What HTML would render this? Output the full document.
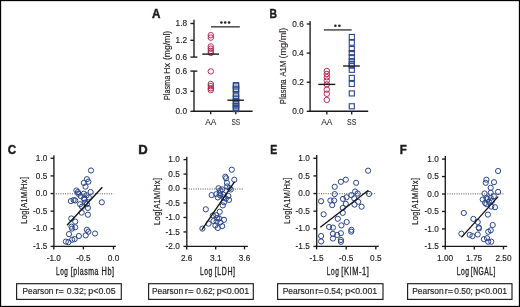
<!DOCTYPE html>
<html><head><meta charset="utf-8"><title>Figure</title>
<style>
html,body{margin:0;padding:0;background:#fff;}
body{width:520px;height:307px;overflow:hidden;}
svg{display:block;font-family:"Liberation Sans", sans-serif;filter:blur(0.3px);}
</style></head>
<body>
<svg xmlns="http://www.w3.org/2000/svg" width="520" height="307" viewBox="0 0 520 307">
<rect x="0" y="0" width="520" height="307" fill="#fff"/>
<rect x="0.5" y="0.5" width="519" height="306" fill="none" stroke="#000" stroke-width="1.3"/>
<text transform="translate(152.01,17.60) scale(0.9240,1)" font-size="12.6" font-weight="bold" fill="#1e1b1c" stroke="#1e1b1c" stroke-width="0.45">A</text>
<text transform="translate(269.60,17.60) scale(0.8197,1)" font-size="12.6" font-weight="bold" fill="#1e1b1c" stroke="#1e1b1c" stroke-width="0.45">B</text>
<text transform="translate(7.64,153.60) scale(0.9209,1)" font-size="12.6" font-weight="bold" fill="#1e1b1c" stroke="#1e1b1c" stroke-width="0.45">C</text>
<text transform="translate(138.32,153.50) scale(1.0366,1)" font-size="12.6" font-weight="bold" fill="#1e1b1c" stroke="#1e1b1c" stroke-width="0.45">D</text>
<text transform="translate(270.30,153.60) scale(0.8220,1)" font-size="12.6" font-weight="bold" fill="#1e1b1c" stroke="#1e1b1c" stroke-width="0.45">E</text>
<text transform="translate(399.83,153.60) scale(0.9070,1)" font-size="12.6" font-weight="bold" fill="#1e1b1c" stroke="#1e1b1c" stroke-width="0.45">F</text>
<line x1="194.0" y1="19.8" x2="194.0" y2="57.1" stroke="#1a1a1a" stroke-width="1.35" />
<line x1="190.4" y1="23.5" x2="194.0" y2="23.5" stroke="#1a1a1a" stroke-width="1.35" />
<text transform="translate(175.55,26.14) scale(0.88,1)" font-size="9.4" fill="#1e1b1c" stroke="#1e1b1c" stroke-width="0.15">1.8</text>
<line x1="190.4" y1="40.3" x2="194.0" y2="40.3" stroke="#1a1a1a" stroke-width="1.35" />
<text transform="translate(175.62,42.94) scale(0.88,1)" font-size="9.4" fill="#1e1b1c" stroke="#1e1b1c" stroke-width="0.15">1.2</text>
<line x1="190.4" y1="57.1" x2="197.4" y2="57.1" stroke="#1a1a1a" stroke-width="1.35" />
<text transform="translate(175.55,59.64) scale(0.88,1)" font-size="9.4" fill="#1e1b1c" stroke="#1e1b1c" stroke-width="0.15">0.6</text>
<line x1="194.0" y1="71.1" x2="194.0" y2="111.3" stroke="#1a1a1a" stroke-width="1.35" />
<line x1="190.4" y1="71.1" x2="197.4" y2="71.1" stroke="#1a1a1a" stroke-width="1.35" />
<text transform="translate(175.55,73.64) scale(0.88,1)" font-size="9.4" fill="#1e1b1c" stroke="#1e1b1c" stroke-width="0.15">0.6</text>
<line x1="190.4" y1="91.3" x2="194.0" y2="91.3" stroke="#1a1a1a" stroke-width="1.35" />
<text transform="translate(175.55,93.94) scale(0.88,1)" font-size="9.4" fill="#1e1b1c" stroke="#1e1b1c" stroke-width="0.15">0.3</text>
<line x1="190.4" y1="111.3" x2="194.0" y2="111.3" stroke="#1a1a1a" stroke-width="1.35" />
<text transform="translate(175.51,113.94) scale(0.88,1)" font-size="9.4" fill="#1e1b1c" stroke="#1e1b1c" stroke-width="0.15">0.0</text>
<line x1="193.4" y1="111.2" x2="252.6" y2="111.2" stroke="#1a1a1a" stroke-width="1.35" />
<line x1="210.7" y1="111.2" x2="210.7" y2="114.3" stroke="#1a1a1a" stroke-width="1.35" />
<line x1="235.8" y1="111.2" x2="235.8" y2="114.3" stroke="#1a1a1a" stroke-width="1.35" />
<text transform="translate(205.18,125.30) scale(0.9273,1)" font-size="9.0" font-weight="normal" fill="#1e1b1c" stroke="#1e1b1c" stroke-width="0.05">AA</text>
<text transform="translate(231.40,125.30) scale(0.7333,1)" font-size="9.0" font-weight="normal" fill="#1e1b1c" stroke="#1e1b1c" stroke-width="0.05">SS</text>
<text transform="translate(169.80,100.10) rotate(-90) scale(0.7628,1)" font-size="9.6" fill="#1e1b1c" stroke="#1e1b1c" stroke-width="0.15">Plasma</text>
<text transform="translate(169.80,73.95) rotate(-90) scale(0.9424,1)" font-size="9.6" fill="#1e1b1c" stroke="#1e1b1c" stroke-width="0.15">Hx</text>
<text transform="translate(169.80,60.04) rotate(-90) scale(0.9004,1)" font-size="9.6" fill="#1e1b1c" stroke="#1e1b1c" stroke-width="0.15">(mg/ml)</text>
<line x1="211" y1="26.8" x2="239.8" y2="26.8" stroke="#555" stroke-width="1.6" />
<circle cx="221.4" cy="22.5" r="1.3" fill="#222"/>
<circle cx="225.2" cy="22.5" r="1.3" fill="#222"/>
<circle cx="229.1" cy="22.5" r="1.3" fill="#222"/>
<circle cx="210.8" cy="35.2" r="2.75" fill="none" stroke="#ae1a44" stroke-width="0.9"/>
<circle cx="210.8" cy="37.6" r="2.75" fill="none" stroke="#ae1a44" stroke-width="0.9"/>
<circle cx="210.8" cy="46.5" r="2.75" fill="none" stroke="#ae1a44" stroke-width="0.9"/>
<circle cx="210.8" cy="48.7" r="2.75" fill="none" stroke="#ae1a44" stroke-width="0.9"/>
<circle cx="210.8" cy="50.9" r="2.75" fill="none" stroke="#ae1a44" stroke-width="0.9"/>
<circle cx="210.8" cy="52.9" r="2.75" fill="none" stroke="#ae1a44" stroke-width="0.9"/>
<circle cx="210.8" cy="71.4" r="2.75" fill="none" stroke="#ae1a44" stroke-width="0.9"/>
<circle cx="210.8" cy="84.0" r="2.75" fill="none" stroke="#ae1a44" stroke-width="0.9"/>
<circle cx="210.8" cy="86.1" r="2.75" fill="none" stroke="#ae1a44" stroke-width="0.9"/>
<circle cx="210.8" cy="88.2" r="2.75" fill="none" stroke="#ae1a44" stroke-width="0.9"/>
<circle cx="210.8" cy="90.0" r="2.75" fill="none" stroke="#ae1a44" stroke-width="0.9"/>
<line x1="202.3" y1="54.1" x2="219.0" y2="54.1" stroke="#1a1a1a" stroke-width="1.4" />
<rect x="233.35" y="82.60" width="5.3" height="5.3" fill="none" stroke="#2a4686" stroke-width="1.1"/>
<rect x="233.35" y="83.80" width="5.3" height="5.3" fill="none" stroke="#2a4686" stroke-width="1.1"/>
<rect x="233.35" y="86.10" width="5.3" height="5.3" fill="none" stroke="#2a4686" stroke-width="1.1"/>
<rect x="233.35" y="87.00" width="5.3" height="5.3" fill="none" stroke="#2a4686" stroke-width="1.1"/>
<rect x="233.35" y="91.45" width="5.3" height="5.3" fill="none" stroke="#2a4686" stroke-width="1.1"/>
<rect x="233.35" y="93.80" width="5.3" height="5.3" fill="none" stroke="#2a4686" stroke-width="1.1"/>
<rect x="233.35" y="95.90" width="5.3" height="5.3" fill="none" stroke="#2a4686" stroke-width="1.1"/>
<rect x="233.35" y="98.55" width="5.3" height="5.3" fill="none" stroke="#2a4686" stroke-width="1.1"/>
<rect x="233.35" y="100.35" width="5.3" height="5.3" fill="none" stroke="#2a4686" stroke-width="1.1"/>
<rect x="233.35" y="101.95" width="5.3" height="5.3" fill="none" stroke="#2a4686" stroke-width="1.1"/>
<rect x="233.35" y="103.55" width="5.3" height="5.3" fill="none" stroke="#2a4686" stroke-width="1.1"/>
<rect x="233.35" y="105.05" width="5.3" height="5.3" fill="none" stroke="#2a4686" stroke-width="1.1"/>
<rect x="233.35" y="106.35" width="5.3" height="5.3" fill="none" stroke="#2a4686" stroke-width="1.1"/>
<line x1="227.4" y1="100.2" x2="243.9" y2="100.2" stroke="#1a1a1a" stroke-width="1.4" />
<line x1="310.1" y1="20.9" x2="310.1" y2="111.3" stroke="#1a1a1a" stroke-width="1.35" />
<line x1="306.8" y1="24.0" x2="310.1" y2="24.0" stroke="#1a1a1a" stroke-width="1.35" />
<text transform="translate(292.25,26.64) scale(0.88,1)" font-size="9.4" fill="#1e1b1c" stroke="#1e1b1c" stroke-width="0.15">0.6</text>
<line x1="306.8" y1="53.1" x2="310.1" y2="53.1" stroke="#1a1a1a" stroke-width="1.35" />
<text transform="translate(292.13,55.74) scale(0.88,1)" font-size="9.4" fill="#1e1b1c" stroke="#1e1b1c" stroke-width="0.15">0.4</text>
<line x1="306.8" y1="82.2" x2="310.1" y2="82.2" stroke="#1a1a1a" stroke-width="1.35" />
<text transform="translate(292.32,84.84) scale(0.88,1)" font-size="9.4" fill="#1e1b1c" stroke="#1e1b1c" stroke-width="0.15">0.2</text>
<line x1="306.8" y1="111.3" x2="310.1" y2="111.3" stroke="#1a1a1a" stroke-width="1.35" />
<text transform="translate(292.21,113.94) scale(0.88,1)" font-size="9.4" fill="#1e1b1c" stroke="#1e1b1c" stroke-width="0.15">0.0</text>
<line x1="309.5" y1="111.2" x2="368.2" y2="111.2" stroke="#1a1a1a" stroke-width="1.35" />
<line x1="326.8" y1="111.2" x2="326.8" y2="114.4" stroke="#1a1a1a" stroke-width="1.35" />
<line x1="351.7" y1="111.2" x2="351.7" y2="114.4" stroke="#1a1a1a" stroke-width="1.35" />
<text transform="translate(321.18,125.30) scale(0.9357,1)" font-size="9.0" font-weight="normal" fill="#1e1b1c" stroke="#1e1b1c" stroke-width="0.05">AA</text>
<text transform="translate(346.98,125.30) scale(0.7780,1)" font-size="9.0" font-weight="normal" fill="#1e1b1c" stroke="#1e1b1c" stroke-width="0.05">SS</text>
<text transform="translate(285.80,104.01) rotate(-90) scale(0.7724,1)" font-size="9.6" fill="#1e1b1c" stroke="#1e1b1c" stroke-width="0.15">Plasma</text>
<text transform="translate(285.80,76.52) rotate(-90) scale(0.8037,1)" font-size="9.6" fill="#1e1b1c" stroke="#1e1b1c" stroke-width="0.15">A1M</text>
<text transform="translate(285.80,58.47) rotate(-90) scale(0.9451,1)" font-size="9.6" fill="#1e1b1c" stroke="#1e1b1c" stroke-width="0.15">(mg/ml)</text>
<line x1="323.8" y1="29.9" x2="351.7" y2="29.9" stroke="#555" stroke-width="1.6" />
<circle cx="335.4" cy="25.7" r="1.3" fill="#222"/>
<circle cx="339.4" cy="25.7" r="1.3" fill="#222"/>
<circle cx="326.8" cy="71.0" r="2.75" fill="none" stroke="#ae1a44" stroke-width="0.9"/>
<circle cx="326.8" cy="74.0" r="2.75" fill="none" stroke="#ae1a44" stroke-width="0.9"/>
<circle cx="326.8" cy="77.2" r="2.75" fill="none" stroke="#ae1a44" stroke-width="0.9"/>
<circle cx="326.8" cy="80.6" r="2.75" fill="none" stroke="#ae1a44" stroke-width="0.9"/>
<circle cx="326.8" cy="84.4" r="2.75" fill="none" stroke="#ae1a44" stroke-width="0.9"/>
<circle cx="326.8" cy="89.6" r="2.75" fill="none" stroke="#ae1a44" stroke-width="0.9"/>
<circle cx="326.8" cy="93.8" r="2.75" fill="none" stroke="#ae1a44" stroke-width="0.9"/>
<circle cx="326.8" cy="99.9" r="2.75" fill="none" stroke="#ae1a44" stroke-width="0.9"/>
<line x1="318.3" y1="84.4" x2="335.3" y2="84.4" stroke="#1a1a1a" stroke-width="1.4" />
<rect x="349.25" y="34.45" width="5.1" height="5.1" fill="none" stroke="#2a4686" stroke-width="1.1"/>
<rect x="349.25" y="40.15" width="5.1" height="5.1" fill="none" stroke="#2a4686" stroke-width="1.1"/>
<rect x="349.25" y="46.50" width="5.1" height="5.1" fill="none" stroke="#2a4686" stroke-width="1.1"/>
<rect x="349.25" y="50.50" width="5.1" height="5.1" fill="none" stroke="#2a4686" stroke-width="1.1"/>
<rect x="349.25" y="54.70" width="5.1" height="5.1" fill="none" stroke="#2a4686" stroke-width="1.1"/>
<rect x="349.25" y="58.55" width="5.1" height="5.1" fill="none" stroke="#2a4686" stroke-width="1.1"/>
<rect x="349.25" y="61.60" width="5.1" height="5.1" fill="none" stroke="#2a4686" stroke-width="1.1"/>
<rect x="349.25" y="63.10" width="5.1" height="5.1" fill="none" stroke="#2a4686" stroke-width="1.1"/>
<rect x="349.25" y="67.25" width="5.1" height="5.1" fill="none" stroke="#2a4686" stroke-width="1.1"/>
<rect x="349.25" y="75.35" width="5.1" height="5.1" fill="none" stroke="#2a4686" stroke-width="1.1"/>
<rect x="349.25" y="81.35" width="5.1" height="5.1" fill="none" stroke="#2a4686" stroke-width="1.1"/>
<rect x="349.25" y="90.85" width="5.1" height="5.1" fill="none" stroke="#2a4686" stroke-width="1.1"/>
<rect x="349.25" y="103.75" width="5.1" height="5.1" fill="none" stroke="#2a4686" stroke-width="1.1"/>
<line x1="343.1" y1="66.0" x2="359.8" y2="66.0" stroke="#1a1a1a" stroke-width="1.4" />
<line x1="53.9" y1="155.3" x2="53.9" y2="246.4" stroke="#1a1a1a" stroke-width="1.35" />
<line x1="50.6" y1="158.3" x2="53.9" y2="158.3" stroke="#1a1a1a" stroke-width="1.35" />
<text transform="translate(35.81,160.94) scale(0.88,1)" font-size="9.4" fill="#1e1b1c" stroke="#1e1b1c" stroke-width="0.15">1.0</text>
<line x1="50.6" y1="175.92000000000002" x2="53.9" y2="175.92000000000002" stroke="#1a1a1a" stroke-width="1.35" />
<text transform="translate(35.83,178.56) scale(0.88,1)" font-size="9.4" fill="#1e1b1c" stroke="#1e1b1c" stroke-width="0.15">0.5</text>
<line x1="50.6" y1="193.54000000000002" x2="53.9" y2="193.54000000000002" stroke="#1a1a1a" stroke-width="1.35" />
<text transform="translate(35.81,196.18) scale(0.88,1)" font-size="9.4" fill="#1e1b1c" stroke="#1e1b1c" stroke-width="0.15">0.0</text>
<line x1="50.6" y1="211.16" x2="53.9" y2="211.16" stroke="#1a1a1a" stroke-width="1.35" />
<text transform="translate(33.08,213.80) scale(0.88,1)" font-size="9.4" fill="#1e1b1c" stroke="#1e1b1c" stroke-width="0.15">-0.5</text>
<line x1="50.6" y1="228.78" x2="53.9" y2="228.78" stroke="#1a1a1a" stroke-width="1.35" />
<text transform="translate(33.06,231.42) scale(0.88,1)" font-size="9.4" fill="#1e1b1c" stroke="#1e1b1c" stroke-width="0.15">-1.0</text>
<line x1="50.6" y1="246.4" x2="53.9" y2="246.4" stroke="#1a1a1a" stroke-width="1.35" />
<text transform="translate(33.08,249.04) scale(0.88,1)" font-size="9.4" fill="#1e1b1c" stroke="#1e1b1c" stroke-width="0.15">-1.5</text>
<line x1="53.3" y1="246.4" x2="115.9" y2="246.4" stroke="#1a1a1a" stroke-width="1.35" />
<line x1="53.8" y1="246.4" x2="53.8" y2="249.4" stroke="#1a1a1a" stroke-width="1.35" />
<text transform="translate(46.64,260.50) scale(0.88,1)" font-size="9.4" fill="#1e1b1c" stroke="#1e1b1c" stroke-width="0.15">-1.0</text>
<line x1="83.4" y1="246.4" x2="83.4" y2="249.4" stroke="#1a1a1a" stroke-width="1.35" />
<text transform="translate(76.26,260.50) scale(0.88,1)" font-size="9.4" fill="#1e1b1c" stroke="#1e1b1c" stroke-width="0.15">-0.5</text>
<line x1="113.5" y1="246.4" x2="113.5" y2="249.4" stroke="#1a1a1a" stroke-width="1.35" />
<text transform="translate(107.74,260.50) scale(0.88,1)" font-size="9.4" fill="#1e1b1c" stroke="#1e1b1c" stroke-width="0.15">0.0</text>
<text transform="translate(56.07,275.40) scale(0.6305,1)" font-size="10.2" font-weight="normal" fill="#1e1b1c" stroke="#1e1b1c" stroke-width="0.3" letter-spacing="0.8">Log</text>
<text transform="translate(70.79,275.40) scale(0.6841,1)" font-size="10.2" font-weight="normal" fill="#1e1b1c" stroke="#1e1b1c" stroke-width="0.3" letter-spacing="0.8">[plasma</text>
<text transform="translate(101.49,275.40) scale(0.7230,1)" font-size="10.2" font-weight="normal" fill="#1e1b1c" stroke="#1e1b1c" stroke-width="0.3" letter-spacing="0.8">Hb]</text>
<text transform="translate(27.30,223.71) rotate(-90) scale(0.7653,1)" font-size="9.7" fill="#1e1b1c" stroke="#1e1b1c" stroke-width="0.2" letter-spacing="0.5">Log[A1M/Hx]</text>
<line x1="55.9" y1="193.8" x2="113.6" y2="193.8" stroke="#555" stroke-width="1" stroke-dasharray="1 1.3"/>
<circle cx="77.9" cy="192.1" r="2.6" fill="none" stroke="#2a4686" stroke-width="1.0"/>
<circle cx="86.5" cy="195.3" r="2.6" fill="none" stroke="#2a4686" stroke-width="1.0"/>
<circle cx="73.6" cy="200.0" r="2.6" fill="none" stroke="#2a4686" stroke-width="1.0"/>
<circle cx="84.0" cy="198.5" r="2.6" fill="none" stroke="#2a4686" stroke-width="1.0"/>
<circle cx="85.4" cy="202.5" r="2.6" fill="none" stroke="#2a4686" stroke-width="1.0"/>
<circle cx="91" cy="170.5" r="2.6" fill="none" stroke="#2a4686" stroke-width="1.0"/>
<circle cx="86.9" cy="179.2" r="2.6" fill="none" stroke="#2a4686" stroke-width="1.0"/>
<circle cx="88.4" cy="181.7" r="2.6" fill="none" stroke="#2a4686" stroke-width="1.0"/>
<circle cx="83.8" cy="182.9" r="2.6" fill="none" stroke="#2a4686" stroke-width="1.0"/>
<circle cx="85.5" cy="186.6" r="2.6" fill="none" stroke="#2a4686" stroke-width="1.0"/>
<circle cx="76.4" cy="190.5" r="2.6" fill="none" stroke="#2a4686" stroke-width="1.0"/>
<circle cx="90.6" cy="192" r="2.6" fill="none" stroke="#2a4686" stroke-width="1.0"/>
<circle cx="78.3" cy="193.7" r="2.6" fill="none" stroke="#2a4686" stroke-width="1.0"/>
<circle cx="83.8" cy="193.7" r="2.6" fill="none" stroke="#2a4686" stroke-width="1.0"/>
<circle cx="80.8" cy="196.1" r="2.6" fill="none" stroke="#2a4686" stroke-width="1.0"/>
<circle cx="88.8" cy="197.4" r="2.6" fill="none" stroke="#2a4686" stroke-width="1.0"/>
<circle cx="70.9" cy="201.1" r="2.6" fill="none" stroke="#2a4686" stroke-width="1.0"/>
<circle cx="75.2" cy="200.5" r="2.6" fill="none" stroke="#2a4686" stroke-width="1.0"/>
<circle cx="84.5" cy="199.6" r="2.6" fill="none" stroke="#2a4686" stroke-width="1.0"/>
<circle cx="101.8" cy="202.3" r="2.6" fill="none" stroke="#2a4686" stroke-width="1.0"/>
<circle cx="80.1" cy="204.2" r="2.6" fill="none" stroke="#2a4686" stroke-width="1.0"/>
<circle cx="86.9" cy="204.2" r="2.6" fill="none" stroke="#2a4686" stroke-width="1.0"/>
<circle cx="82" cy="206.7" r="2.6" fill="none" stroke="#2a4686" stroke-width="1.0"/>
<circle cx="87.9" cy="207.9" r="2.6" fill="none" stroke="#2a4686" stroke-width="1.0"/>
<circle cx="81.7" cy="212.6" r="2.6" fill="none" stroke="#2a4686" stroke-width="1.0"/>
<circle cx="87.9" cy="214.7" r="2.6" fill="none" stroke="#2a4686" stroke-width="1.0"/>
<circle cx="71.3" cy="218.5" r="2.6" fill="none" stroke="#2a4686" stroke-width="1.0"/>
<circle cx="75.2" cy="221.6" r="2.6" fill="none" stroke="#2a4686" stroke-width="1.0"/>
<circle cx="71.5" cy="226.7" r="2.6" fill="none" stroke="#2a4686" stroke-width="1.0"/>
<circle cx="75.2" cy="227.3" r="2.6" fill="none" stroke="#2a4686" stroke-width="1.0"/>
<circle cx="72.1" cy="228.6" r="2.6" fill="none" stroke="#2a4686" stroke-width="1.0"/>
<circle cx="86.9" cy="229.8" r="2.6" fill="none" stroke="#2a4686" stroke-width="1.0"/>
<circle cx="88.4" cy="231.7" r="2.6" fill="none" stroke="#2a4686" stroke-width="1.0"/>
<circle cx="95" cy="233.5" r="2.6" fill="none" stroke="#2a4686" stroke-width="1.0"/>
<circle cx="69" cy="234.1" r="2.6" fill="none" stroke="#2a4686" stroke-width="1.0"/>
<circle cx="85.7" cy="235.4" r="2.6" fill="none" stroke="#2a4686" stroke-width="1.0"/>
<circle cx="78.9" cy="236" r="2.6" fill="none" stroke="#2a4686" stroke-width="1.0"/>
<circle cx="74.6" cy="239.1" r="2.6" fill="none" stroke="#2a4686" stroke-width="1.0"/>
<circle cx="72.1" cy="239.7" r="2.6" fill="none" stroke="#2a4686" stroke-width="1.0"/>
<circle cx="65.9" cy="241.6" r="2.6" fill="none" stroke="#2a4686" stroke-width="1.0"/>
<circle cx="68.4" cy="242.2" r="2.6" fill="none" stroke="#2a4686" stroke-width="1.0"/>
<line x1="67.0" y1="225.3" x2="102.3" y2="187.3" stroke="#111" stroke-width="1.35" />
<rect x="16.6" y="283.7" width="104.69999999999999" height="15.7" fill="none" stroke="#1e1b1c" stroke-width="1.15"/>
<text transform="translate(22.62,294.20) scale(0.9377,1)" font-size="8.8" font-weight="normal" fill="#1e1b1c" stroke="#1e1b1c" stroke-width="0.15">Pearson</text>
<text transform="translate(55.38,294.20) scale(1.0440,1)" font-size="8.8" font-weight="normal" fill="#1e1b1c" stroke="#1e1b1c" stroke-width="0.15">r=</text>
<text transform="translate(66.85,294.20) scale(0.9872,1)" font-size="8.8" font-weight="normal" fill="#1e1b1c" stroke="#1e1b1c" stroke-width="0.15">0.32;</text>
<text transform="translate(88.32,294.20) scale(1.0067,1)" font-size="8.8" font-weight="normal" fill="#1e1b1c" stroke="#1e1b1c" stroke-width="0.15">p&lt;0.05</text>
<line x1="186.8" y1="156.8" x2="186.8" y2="246.4" stroke="#1a1a1a" stroke-width="1.35" />
<line x1="183.5" y1="159.6" x2="186.8" y2="159.6" stroke="#1a1a1a" stroke-width="1.35" />
<text transform="translate(168.31,162.24) scale(0.88,1)" font-size="9.4" fill="#1e1b1c" stroke="#1e1b1c" stroke-width="0.15">1.0</text>
<line x1="183.5" y1="174.06666666666666" x2="186.8" y2="174.06666666666666" stroke="#1a1a1a" stroke-width="1.35" />
<text transform="translate(168.33,176.71) scale(0.88,1)" font-size="9.4" fill="#1e1b1c" stroke="#1e1b1c" stroke-width="0.15">0.5</text>
<line x1="183.5" y1="188.53333333333333" x2="186.8" y2="188.53333333333333" stroke="#1a1a1a" stroke-width="1.35" />
<text transform="translate(168.31,191.17) scale(0.88,1)" font-size="9.4" fill="#1e1b1c" stroke="#1e1b1c" stroke-width="0.15">0.0</text>
<line x1="183.5" y1="203.0" x2="186.8" y2="203.0" stroke="#1a1a1a" stroke-width="1.35" />
<text transform="translate(165.58,205.64) scale(0.88,1)" font-size="9.4" fill="#1e1b1c" stroke="#1e1b1c" stroke-width="0.15">-0.5</text>
<line x1="183.5" y1="217.46666666666667" x2="186.8" y2="217.46666666666667" stroke="#1a1a1a" stroke-width="1.35" />
<text transform="translate(165.56,220.11) scale(0.88,1)" font-size="9.4" fill="#1e1b1c" stroke="#1e1b1c" stroke-width="0.15">-1.0</text>
<line x1="183.5" y1="231.93333333333334" x2="186.8" y2="231.93333333333334" stroke="#1a1a1a" stroke-width="1.35" />
<text transform="translate(165.58,234.57) scale(0.88,1)" font-size="9.4" fill="#1e1b1c" stroke="#1e1b1c" stroke-width="0.15">-1.5</text>
<line x1="183.5" y1="246.4" x2="186.8" y2="246.4" stroke="#1a1a1a" stroke-width="1.35" />
<text transform="translate(165.56,249.04) scale(0.88,1)" font-size="9.4" fill="#1e1b1c" stroke="#1e1b1c" stroke-width="0.15">-2.0</text>
<line x1="186.20000000000002" y1="246.4" x2="247.9" y2="246.4" stroke="#1a1a1a" stroke-width="1.35" />
<line x1="186.7" y1="246.4" x2="186.7" y2="249.4" stroke="#1a1a1a" stroke-width="1.35" />
<text transform="translate(180.92,260.50) scale(0.88,1)" font-size="9.4" fill="#1e1b1c" stroke="#1e1b1c" stroke-width="0.15">2.6</text>
<line x1="215.7" y1="246.4" x2="215.7" y2="249.4" stroke="#1a1a1a" stroke-width="1.35" />
<text transform="translate(209.99,260.50) scale(0.88,1)" font-size="9.4" fill="#1e1b1c" stroke="#1e1b1c" stroke-width="0.15">3.1</text>
<line x1="244.5" y1="246.4" x2="244.5" y2="249.4" stroke="#1a1a1a" stroke-width="1.35" />
<text transform="translate(238.77,260.50) scale(0.88,1)" font-size="9.4" fill="#1e1b1c" stroke="#1e1b1c" stroke-width="0.15">3.6</text>
<text transform="translate(200.05,275.40) scale(0.6538,1)" font-size="10.2" font-weight="normal" fill="#1e1b1c" stroke="#1e1b1c" stroke-width="0.3" letter-spacing="0.8">Log</text>
<text transform="translate(214.79,275.40) scale(0.6905,1)" font-size="10.2" font-weight="normal" fill="#1e1b1c" stroke="#1e1b1c" stroke-width="0.3" letter-spacing="0.8">[LDH]</text>
<text transform="translate(159.60,224.92) rotate(-90) scale(0.7703,1)" font-size="9.7" fill="#1e1b1c" stroke="#1e1b1c" stroke-width="0.2" letter-spacing="0.5">Log[A1M/Hx]</text>
<line x1="188.8" y1="189.0" x2="243.5" y2="189.0" stroke="#555" stroke-width="1" stroke-dasharray="1 1.3"/>
<circle cx="231.8" cy="169.7" r="2.6" fill="none" stroke="#2a4686" stroke-width="1.0"/>
<circle cx="225.3" cy="176.7" r="2.6" fill="none" stroke="#2a4686" stroke-width="1.0"/>
<circle cx="226.1" cy="178.3" r="2.6" fill="none" stroke="#2a4686" stroke-width="1.0"/>
<circle cx="234.3" cy="179.8" r="2.6" fill="none" stroke="#2a4686" stroke-width="1.0"/>
<circle cx="226.9" cy="182.9" r="2.6" fill="none" stroke="#2a4686" stroke-width="1.0"/>
<circle cx="227.1" cy="186.4" r="2.6" fill="none" stroke="#2a4686" stroke-width="1.0"/>
<circle cx="218.5" cy="188.2" r="2.6" fill="none" stroke="#2a4686" stroke-width="1.0"/>
<circle cx="222.2" cy="189.4" r="2.6" fill="none" stroke="#2a4686" stroke-width="1.0"/>
<circle cx="230.8" cy="189.5" r="2.6" fill="none" stroke="#2a4686" stroke-width="1.0"/>
<circle cx="229.6" cy="188.1" r="2.6" fill="none" stroke="#2a4686" stroke-width="1.0"/>
<circle cx="220.3" cy="190.3" r="2.6" fill="none" stroke="#2a4686" stroke-width="1.0"/>
<circle cx="211.7" cy="195.1" r="2.6" fill="none" stroke="#2a4686" stroke-width="1.0"/>
<circle cx="216.3" cy="194.2" r="2.6" fill="none" stroke="#2a4686" stroke-width="1.0"/>
<circle cx="219.7" cy="193.4" r="2.6" fill="none" stroke="#2a4686" stroke-width="1.0"/>
<circle cx="223.4" cy="194.7" r="2.6" fill="none" stroke="#2a4686" stroke-width="1.0"/>
<circle cx="228.4" cy="196" r="2.6" fill="none" stroke="#2a4686" stroke-width="1.0"/>
<circle cx="220.3" cy="195.5" r="2.6" fill="none" stroke="#2a4686" stroke-width="1.0"/>
<circle cx="217.8" cy="197.4" r="2.6" fill="none" stroke="#2a4686" stroke-width="1.0"/>
<circle cx="223.4" cy="197.4" r="2.6" fill="none" stroke="#2a4686" stroke-width="1.0"/>
<circle cx="225.9" cy="198.6" r="2.6" fill="none" stroke="#2a4686" stroke-width="1.0"/>
<circle cx="229" cy="199.9" r="2.6" fill="none" stroke="#2a4686" stroke-width="1.0"/>
<circle cx="224" cy="202.3" r="2.6" fill="none" stroke="#2a4686" stroke-width="1.0"/>
<circle cx="222.8" cy="205.4" r="2.6" fill="none" stroke="#2a4686" stroke-width="1.0"/>
<circle cx="205.8" cy="209.3" r="2.6" fill="none" stroke="#2a4686" stroke-width="1.0"/>
<circle cx="219.7" cy="211.8" r="2.6" fill="none" stroke="#2a4686" stroke-width="1.0"/>
<circle cx="212.9" cy="215.4" r="2.6" fill="none" stroke="#2a4686" stroke-width="1.0"/>
<circle cx="216.3" cy="215.2" r="2.6" fill="none" stroke="#2a4686" stroke-width="1.0"/>
<circle cx="217.2" cy="218" r="2.6" fill="none" stroke="#2a4686" stroke-width="1.0"/>
<circle cx="224" cy="219.8" r="2.6" fill="none" stroke="#2a4686" stroke-width="1.0"/>
<circle cx="219.1" cy="218.4" r="2.6" fill="none" stroke="#2a4686" stroke-width="1.0"/>
<circle cx="213.5" cy="221" r="2.6" fill="none" stroke="#2a4686" stroke-width="1.0"/>
<circle cx="216.6" cy="221.6" r="2.6" fill="none" stroke="#2a4686" stroke-width="1.0"/>
<circle cx="208.6" cy="223.6" r="2.6" fill="none" stroke="#2a4686" stroke-width="1.0"/>
<circle cx="220.3" cy="222.4" r="2.6" fill="none" stroke="#2a4686" stroke-width="1.0"/>
<circle cx="215.4" cy="225.5" r="2.6" fill="none" stroke="#2a4686" stroke-width="1.0"/>
<circle cx="222.2" cy="226.1" r="2.6" fill="none" stroke="#2a4686" stroke-width="1.0"/>
<circle cx="217.8" cy="228" r="2.6" fill="none" stroke="#2a4686" stroke-width="1.0"/>
<circle cx="202.4" cy="228.6" r="2.6" fill="none" stroke="#2a4686" stroke-width="1.0"/>
<line x1="201.8" y1="229.8" x2="234.6" y2="181.7" stroke="#111" stroke-width="1.35" />
<rect x="148.6" y="283.7" width="104.70000000000002" height="15.7" fill="none" stroke="#1e1b1c" stroke-width="1.15"/>
<text transform="translate(151.91,294.20) scale(0.9536,1)" font-size="8.8" font-weight="normal" fill="#1e1b1c" stroke="#1e1b1c" stroke-width="0.15">Pearson</text>
<text transform="translate(184.75,294.20) scale(1.0937,1)" font-size="8.8" font-weight="normal" fill="#1e1b1c" stroke="#1e1b1c" stroke-width="0.15">r=</text>
<text transform="translate(196.26,294.20) scale(0.9547,1)" font-size="8.8" font-weight="normal" fill="#1e1b1c" stroke="#1e1b1c" stroke-width="0.15">0.62;</text>
<text transform="translate(216.72,294.20) scale(1.0140,1)" font-size="8.8" font-weight="normal" fill="#1e1b1c" stroke="#1e1b1c" stroke-width="0.15">p&lt;0.001</text>
<line x1="316.7" y1="155.0" x2="316.7" y2="246.4" stroke="#1a1a1a" stroke-width="1.35" />
<line x1="313.4" y1="158.3" x2="316.7" y2="158.3" stroke="#1a1a1a" stroke-width="1.35" />
<text transform="translate(298.31,160.94) scale(0.88,1)" font-size="9.4" fill="#1e1b1c" stroke="#1e1b1c" stroke-width="0.15">1.0</text>
<line x1="313.4" y1="175.92000000000002" x2="316.7" y2="175.92000000000002" stroke="#1a1a1a" stroke-width="1.35" />
<text transform="translate(298.33,178.56) scale(0.88,1)" font-size="9.4" fill="#1e1b1c" stroke="#1e1b1c" stroke-width="0.15">0.5</text>
<line x1="313.4" y1="193.54000000000002" x2="316.7" y2="193.54000000000002" stroke="#1a1a1a" stroke-width="1.35" />
<text transform="translate(298.31,196.18) scale(0.88,1)" font-size="9.4" fill="#1e1b1c" stroke="#1e1b1c" stroke-width="0.15">0.0</text>
<line x1="313.4" y1="211.16" x2="316.7" y2="211.16" stroke="#1a1a1a" stroke-width="1.35" />
<text transform="translate(295.58,213.80) scale(0.88,1)" font-size="9.4" fill="#1e1b1c" stroke="#1e1b1c" stroke-width="0.15">-0.5</text>
<line x1="313.4" y1="228.78" x2="316.7" y2="228.78" stroke="#1a1a1a" stroke-width="1.35" />
<text transform="translate(295.56,231.42) scale(0.88,1)" font-size="9.4" fill="#1e1b1c" stroke="#1e1b1c" stroke-width="0.15">-1.0</text>
<line x1="313.4" y1="246.4" x2="316.7" y2="246.4" stroke="#1a1a1a" stroke-width="1.35" />
<text transform="translate(295.58,249.04) scale(0.88,1)" font-size="9.4" fill="#1e1b1c" stroke="#1e1b1c" stroke-width="0.15">-1.5</text>
<line x1="316.09999999999997" y1="246.4" x2="378.8" y2="246.4" stroke="#1a1a1a" stroke-width="1.35" />
<line x1="316.6" y1="246.4" x2="316.6" y2="249.4" stroke="#1a1a1a" stroke-width="1.35" />
<text transform="translate(309.46,260.50) scale(0.88,1)" font-size="9.4" fill="#1e1b1c" stroke="#1e1b1c" stroke-width="0.15">-1.5</text>
<line x1="346.2" y1="246.4" x2="346.2" y2="249.4" stroke="#1a1a1a" stroke-width="1.35" />
<text transform="translate(339.06,260.50) scale(0.88,1)" font-size="9.4" fill="#1e1b1c" stroke="#1e1b1c" stroke-width="0.15">-0.5</text>
<line x1="375.8" y1="246.4" x2="375.8" y2="249.4" stroke="#1a1a1a" stroke-width="1.35" />
<text transform="translate(370.05,260.50) scale(0.88,1)" font-size="9.4" fill="#1e1b1c" stroke="#1e1b1c" stroke-width="0.15">0.5</text>
<text transform="translate(326.86,275.40) scale(0.6422,1)" font-size="10.2" font-weight="normal" fill="#1e1b1c" stroke="#1e1b1c" stroke-width="0.3" letter-spacing="0.8">Log</text>
<text transform="translate(341.36,275.40) scale(0.7317,1)" font-size="10.2" font-weight="normal" fill="#1e1b1c" stroke="#1e1b1c" stroke-width="0.3" letter-spacing="0.8">[KIM-1]</text>
<text transform="translate(289.80,223.70) rotate(-90) scale(0.7552,1)" font-size="9.7" fill="#1e1b1c" stroke="#1e1b1c" stroke-width="0.2" letter-spacing="0.5">Log[A1M/Hx]</text>
<line x1="318.7" y1="193.7" x2="376.0" y2="193.7" stroke="#555" stroke-width="1" stroke-dasharray="1 1.3"/>
<circle cx="368.1" cy="170.7" r="2.6" fill="none" stroke="#2a4686" stroke-width="1.0"/>
<circle cx="345.8" cy="179.7" r="2.6" fill="none" stroke="#2a4686" stroke-width="1.0"/>
<circle cx="340.9" cy="181.8" r="2.6" fill="none" stroke="#2a4686" stroke-width="1.0"/>
<circle cx="356.1" cy="182.8" r="2.6" fill="none" stroke="#2a4686" stroke-width="1.0"/>
<circle cx="334.7" cy="186.8" r="2.6" fill="none" stroke="#2a4686" stroke-width="1.0"/>
<circle cx="355.1" cy="191.5" r="2.6" fill="none" stroke="#2a4686" stroke-width="1.0"/>
<circle cx="334.7" cy="194.1" r="2.6" fill="none" stroke="#2a4686" stroke-width="1.0"/>
<circle cx="369" cy="193.9" r="2.6" fill="none" stroke="#2a4686" stroke-width="1.0"/>
<circle cx="351.4" cy="195.1" r="2.6" fill="none" stroke="#2a4686" stroke-width="1.0"/>
<circle cx="357.6" cy="193.5" r="2.6" fill="none" stroke="#2a4686" stroke-width="1.0"/>
<circle cx="346.5" cy="197.3" r="2.6" fill="none" stroke="#2a4686" stroke-width="1.0"/>
<circle cx="343" cy="198.9" r="2.6" fill="none" stroke="#2a4686" stroke-width="1.0"/>
<circle cx="330.4" cy="200.5" r="2.6" fill="none" stroke="#2a4686" stroke-width="1.0"/>
<circle cx="321.1" cy="201.2" r="2.6" fill="none" stroke="#2a4686" stroke-width="1.0"/>
<circle cx="354.2" cy="198.3" r="2.6" fill="none" stroke="#2a4686" stroke-width="1.0"/>
<circle cx="334.1" cy="200.5" r="2.6" fill="none" stroke="#2a4686" stroke-width="1.0"/>
<circle cx="332.2" cy="205.1" r="2.6" fill="none" stroke="#2a4686" stroke-width="1.0"/>
<circle cx="345.8" cy="203.9" r="2.6" fill="none" stroke="#2a4686" stroke-width="1.0"/>
<circle cx="354.5" cy="204.6" r="2.6" fill="none" stroke="#2a4686" stroke-width="1.0"/>
<circle cx="358.2" cy="201.8" r="2.6" fill="none" stroke="#2a4686" stroke-width="1.0"/>
<circle cx="361.6" cy="206.7" r="2.6" fill="none" stroke="#2a4686" stroke-width="1.0"/>
<circle cx="342.8" cy="207.9" r="2.6" fill="none" stroke="#2a4686" stroke-width="1.0"/>
<circle cx="323.6" cy="214.3" r="2.6" fill="none" stroke="#2a4686" stroke-width="1.0"/>
<circle cx="342.8" cy="212.9" r="2.6" fill="none" stroke="#2a4686" stroke-width="1.0"/>
<circle cx="337.8" cy="218.8" r="2.6" fill="none" stroke="#2a4686" stroke-width="1.0"/>
<circle cx="346.7" cy="222" r="2.6" fill="none" stroke="#2a4686" stroke-width="1.0"/>
<circle cx="341.4" cy="225.4" r="2.6" fill="none" stroke="#2a4686" stroke-width="1.0"/>
<circle cx="329.1" cy="227" r="2.6" fill="none" stroke="#2a4686" stroke-width="1.0"/>
<circle cx="332.9" cy="227.6" r="2.6" fill="none" stroke="#2a4686" stroke-width="1.0"/>
<circle cx="351.4" cy="229.8" r="2.6" fill="none" stroke="#2a4686" stroke-width="1.0"/>
<circle cx="351.2" cy="231.6" r="2.6" fill="none" stroke="#2a4686" stroke-width="1.0"/>
<circle cx="332.9" cy="233.8" r="2.6" fill="none" stroke="#2a4686" stroke-width="1.0"/>
<circle cx="337.2" cy="235" r="2.6" fill="none" stroke="#2a4686" stroke-width="1.0"/>
<circle cx="340.9" cy="233.2" r="2.6" fill="none" stroke="#2a4686" stroke-width="1.0"/>
<circle cx="321.1" cy="236" r="2.6" fill="none" stroke="#2a4686" stroke-width="1.0"/>
<circle cx="332.9" cy="238.5" r="2.6" fill="none" stroke="#2a4686" stroke-width="1.0"/>
<circle cx="340.9" cy="240" r="2.6" fill="none" stroke="#2a4686" stroke-width="1.0"/>
<circle cx="321.1" cy="241.5" r="2.6" fill="none" stroke="#2a4686" stroke-width="1.0"/>
<circle cx="340.9" cy="241.8" r="2.6" fill="none" stroke="#2a4686" stroke-width="1.0"/>
<line x1="320.3" y1="227.3" x2="368.4" y2="190.2" stroke="#111" stroke-width="1.35" />
<rect x="277.6" y="283.7" width="105.39999999999998" height="15.7" fill="none" stroke="#1e1b1c" stroke-width="1.15"/>
<text transform="translate(282.70,294.20) scale(0.9599,1)" font-size="8.8" font-weight="normal" fill="#1e1b1c" stroke="#1e1b1c" stroke-width="0.15">Pearson</text>
<text transform="translate(315.29,294.20) scale(1.0227,1)" font-size="8.8" font-weight="normal" fill="#1e1b1c" stroke="#1e1b1c" stroke-width="0.15">r=</text>
<text transform="translate(324.37,294.20) scale(0.9492,1)" font-size="8.8" font-weight="normal" fill="#1e1b1c" stroke="#1e1b1c" stroke-width="0.15">0.54;</text>
<text transform="translate(345.23,294.20) scale(0.9979,1)" font-size="8.8" font-weight="normal" fill="#1e1b1c" stroke="#1e1b1c" stroke-width="0.15">p&lt;0.001</text>
<line x1="445.3" y1="156.0" x2="445.3" y2="246.4" stroke="#1a1a1a" stroke-width="1.35" />
<line x1="442.0" y1="159.1" x2="445.3" y2="159.1" stroke="#1a1a1a" stroke-width="1.35" />
<text transform="translate(427.31,161.74) scale(0.88,1)" font-size="9.4" fill="#1e1b1c" stroke="#1e1b1c" stroke-width="0.15">1.0</text>
<line x1="442.0" y1="176.56" x2="445.3" y2="176.56" stroke="#1a1a1a" stroke-width="1.35" />
<text transform="translate(427.33,179.20) scale(0.88,1)" font-size="9.4" fill="#1e1b1c" stroke="#1e1b1c" stroke-width="0.15">0.5</text>
<line x1="442.0" y1="194.01999999999998" x2="445.3" y2="194.01999999999998" stroke="#1a1a1a" stroke-width="1.35" />
<text transform="translate(427.31,196.66) scale(0.88,1)" font-size="9.4" fill="#1e1b1c" stroke="#1e1b1c" stroke-width="0.15">0.0</text>
<line x1="442.0" y1="211.48000000000002" x2="445.3" y2="211.48000000000002" stroke="#1a1a1a" stroke-width="1.35" />
<text transform="translate(424.58,214.12) scale(0.88,1)" font-size="9.4" fill="#1e1b1c" stroke="#1e1b1c" stroke-width="0.15">-0.5</text>
<line x1="442.0" y1="228.94" x2="445.3" y2="228.94" stroke="#1a1a1a" stroke-width="1.35" />
<text transform="translate(424.56,231.58) scale(0.88,1)" font-size="9.4" fill="#1e1b1c" stroke="#1e1b1c" stroke-width="0.15">-1.0</text>
<line x1="442.0" y1="246.4" x2="445.3" y2="246.4" stroke="#1a1a1a" stroke-width="1.35" />
<text transform="translate(424.58,249.04) scale(0.88,1)" font-size="9.4" fill="#1e1b1c" stroke="#1e1b1c" stroke-width="0.15">-1.5</text>
<line x1="444.7" y1="246.4" x2="507.2" y2="246.4" stroke="#1a1a1a" stroke-width="1.35" />
<line x1="445.3" y1="246.4" x2="445.3" y2="249.4" stroke="#1a1a1a" stroke-width="1.35" />
<text transform="translate(437.10,260.50) scale(0.88,1)" font-size="9.4" fill="#1e1b1c" stroke="#1e1b1c" stroke-width="0.15">1.00</text>
<line x1="474.3" y1="246.4" x2="474.3" y2="249.4" stroke="#1a1a1a" stroke-width="1.35" />
<text transform="translate(466.11,260.50) scale(0.88,1)" font-size="9.4" fill="#1e1b1c" stroke="#1e1b1c" stroke-width="0.15">1.75</text>
<line x1="503.5" y1="246.4" x2="503.5" y2="249.4" stroke="#1a1a1a" stroke-width="1.35" />
<text transform="translate(495.40,260.50) scale(0.88,1)" font-size="9.4" fill="#1e1b1c" stroke="#1e1b1c" stroke-width="0.15">2.50</text>
<text transform="translate(456.64,275.40) scale(0.6655,1)" font-size="10.2" font-weight="normal" fill="#1e1b1c" stroke="#1e1b1c" stroke-width="0.3" letter-spacing="0.8">Log</text>
<text transform="translate(470.81,275.40) scale(0.6588,1)" font-size="10.2" font-weight="normal" fill="#1e1b1c" stroke="#1e1b1c" stroke-width="0.3" letter-spacing="0.8">[NGAL]</text>
<text transform="translate(417.60,224.71) rotate(-90) scale(0.7653,1)" font-size="9.7" fill="#1e1b1c" stroke="#1e1b1c" stroke-width="0.2" letter-spacing="0.5">Log[A1M/Hx]</text>
<line x1="447.3" y1="193.9" x2="504.5" y2="193.9" stroke="#555" stroke-width="1" stroke-dasharray="1 1.3"/>
<circle cx="498.1" cy="171" r="2.6" fill="none" stroke="#2a4686" stroke-width="1.0"/>
<circle cx="486.4" cy="179.7" r="2.6" fill="none" stroke="#2a4686" stroke-width="1.0"/>
<circle cx="485.7" cy="182.8" r="2.6" fill="none" stroke="#2a4686" stroke-width="1.0"/>
<circle cx="494" cy="182.2" r="2.6" fill="none" stroke="#2a4686" stroke-width="1.0"/>
<circle cx="490.7" cy="187.8" r="2.6" fill="none" stroke="#2a4686" stroke-width="1.0"/>
<circle cx="484.5" cy="193.5" r="2.6" fill="none" stroke="#2a4686" stroke-width="1.0"/>
<circle cx="490.7" cy="192.8" r="2.6" fill="none" stroke="#2a4686" stroke-width="1.0"/>
<circle cx="498.1" cy="191.9" r="2.6" fill="none" stroke="#2a4686" stroke-width="1.0"/>
<circle cx="482.7" cy="199.5" r="2.6" fill="none" stroke="#2a4686" stroke-width="1.0"/>
<circle cx="487.6" cy="198.9" r="2.6" fill="none" stroke="#2a4686" stroke-width="1.0"/>
<circle cx="486.4" cy="197.9" r="2.6" fill="none" stroke="#2a4686" stroke-width="1.0"/>
<circle cx="490.7" cy="197.9" r="2.6" fill="none" stroke="#2a4686" stroke-width="1.0"/>
<circle cx="493.8" cy="196.2" r="2.6" fill="none" stroke="#2a4686" stroke-width="1.0"/>
<circle cx="485.1" cy="202.9" r="2.6" fill="none" stroke="#2a4686" stroke-width="1.0"/>
<circle cx="488.8" cy="201.6" r="2.6" fill="none" stroke="#2a4686" stroke-width="1.0"/>
<circle cx="491.9" cy="201" r="2.6" fill="none" stroke="#2a4686" stroke-width="1.0"/>
<circle cx="491.3" cy="206.6" r="2.6" fill="none" stroke="#2a4686" stroke-width="1.0"/>
<circle cx="495" cy="207.2" r="2.6" fill="none" stroke="#2a4686" stroke-width="1.0"/>
<circle cx="486.4" cy="204.1" r="2.6" fill="none" stroke="#2a4686" stroke-width="1.0"/>
<circle cx="463.8" cy="213" r="2.6" fill="none" stroke="#2a4686" stroke-width="1.0"/>
<circle cx="487.9" cy="214.6" r="2.6" fill="none" stroke="#2a4686" stroke-width="1.0"/>
<circle cx="473.4" cy="218.9" r="2.6" fill="none" stroke="#2a4686" stroke-width="1.0"/>
<circle cx="477.7" cy="222" r="2.6" fill="none" stroke="#2a4686" stroke-width="1.0"/>
<circle cx="478.7" cy="227.5" r="2.6" fill="none" stroke="#2a4686" stroke-width="1.0"/>
<circle cx="479" cy="228.3" r="2.6" fill="none" stroke="#2a4686" stroke-width="1.0"/>
<circle cx="492.7" cy="225" r="2.6" fill="none" stroke="#2a4686" stroke-width="1.0"/>
<circle cx="490.7" cy="230.3" r="2.6" fill="none" stroke="#2a4686" stroke-width="1.0"/>
<circle cx="488.2" cy="231.8" r="2.6" fill="none" stroke="#2a4686" stroke-width="1.0"/>
<circle cx="461.4" cy="233.7" r="2.6" fill="none" stroke="#2a4686" stroke-width="1.0"/>
<circle cx="469.7" cy="234.9" r="2.6" fill="none" stroke="#2a4686" stroke-width="1.0"/>
<circle cx="472.5" cy="236.1" r="2.6" fill="none" stroke="#2a4686" stroke-width="1.0"/>
<circle cx="477.7" cy="234.5" r="2.6" fill="none" stroke="#2a4686" stroke-width="1.0"/>
<circle cx="483.9" cy="239.2" r="2.6" fill="none" stroke="#2a4686" stroke-width="1.0"/>
<circle cx="487" cy="238.2" r="2.6" fill="none" stroke="#2a4686" stroke-width="1.0"/>
<circle cx="488.2" cy="241.7" r="2.6" fill="none" stroke="#2a4686" stroke-width="1.0"/>
<circle cx="491.3" cy="241.7" r="2.6" fill="none" stroke="#2a4686" stroke-width="1.0"/>
<line x1="461.4" y1="237.4" x2="498.1" y2="196.6" stroke="#111" stroke-width="1.35" />
<rect x="407.6" y="283.7" width="104.39999999999998" height="15.7" fill="none" stroke="#1e1b1c" stroke-width="1.15"/>
<text transform="translate(412.20,294.20) scale(0.9599,1)" font-size="8.8" font-weight="normal" fill="#1e1b1c" stroke="#1e1b1c" stroke-width="0.15">Pearson</text>
<text transform="translate(444.79,294.20) scale(1.0227,1)" font-size="8.8" font-weight="normal" fill="#1e1b1c" stroke="#1e1b1c" stroke-width="0.15">r=</text>
<text transform="translate(454.26,294.20) scale(0.9547,1)" font-size="8.8" font-weight="normal" fill="#1e1b1c" stroke="#1e1b1c" stroke-width="0.15">0.50;</text>
<text transform="translate(475.23,294.20) scale(0.9979,1)" font-size="8.8" font-weight="normal" fill="#1e1b1c" stroke="#1e1b1c" stroke-width="0.15">p&lt;0.001</text>
</svg>
</body></html>
